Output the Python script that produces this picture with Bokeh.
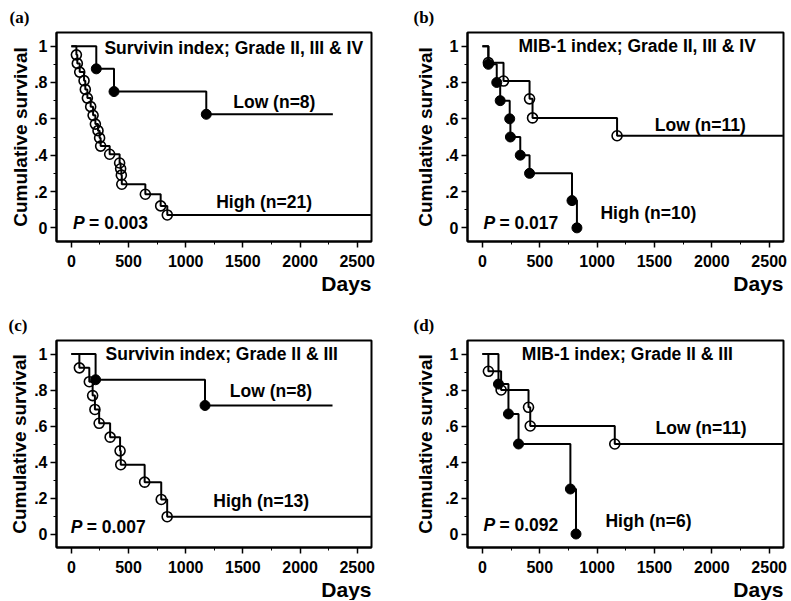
from bokeh.plotting import figure
from bokeh.layouts import gridplot
from bokeh.models import Range1d, FixedTicker, Label, Title
from bokeh.embed import file_html
from bokeh.resources import INLINE

# ---------------- data (days, cumulative survival) ----------------
# (a) Survivin index; Grade II, III & IV
a_low_days = [218, 373, 1180]
a_low_surv = [0.875, 0.75, 0.625]
a_low_end = 2287
a_high_days = [44, 52, 73, 111, 122, 140, 169, 190, 210, 233, 247, 256,
               335, 422, 431, 437, 441, 647, 781, 839]
a_high_surv = [0.952, 0.905, 0.857, 0.810, 0.762, 0.714, 0.667, 0.619,
               0.571, 0.535, 0.495, 0.45, 0.405, 0.357, 0.325, 0.29,
               0.24, 0.185, 0.121, 0.071]
a_high_end = 2620

# (b) MIB-1 index; Grade II, III & IV
b_low_days = [52, 184, 411, 437, 1174]
b_low_surv = [0.909, 0.808, 0.71, 0.605, 0.507]
b_low_end = 2620
b_high_days = [52, 125, 155, 238, 244, 330, 411, 781, 824]
b_high_surv = [0.9, 0.8, 0.7, 0.6, 0.5, 0.4, 0.3, 0.15, 0.0]
b_high_end = 824

# (c) Survivin index; Grade II & III
c_low_days = [212, 1169]
c_low_surv = [0.857, 0.714]
c_low_end = 2284
c_high_days = [70, 157, 186, 206, 243, 339, 426, 432, 641, 786, 838]
c_high_surv = [0.923, 0.846, 0.769, 0.692, 0.615, 0.538, 0.462, 0.385,
               0.288, 0.192, 0.096]
c_high_end = 2620

# (d) MIB-1 index; Grade II & III
d_low_days = [52, 163, 402, 417, 1154]
d_low_surv = [0.904, 0.8, 0.704, 0.6, 0.5]
d_low_end = 2620
d_high_days = [140, 227, 315, 767, 816]
d_high_surv = [0.833, 0.667, 0.5, 0.25, 0.0]
d_high_end = 816

panel_tags = ["(a)", "(b)", "(c)", "(d)"]
panel_titles = ["Survivin index; Grade II, III & IV",
                "MIB-1 index; Grade II, III & IV",
                "Survivin index; Grade II & III",
                "MIB-1 index; Grade II & III"]
low_labels = ["Low (n=8)", "Low (n=11)", "Low (n=8)", "Low (n=11)"]
high_labels = ["High (n=21)", "High (n=10)", "High (n=13)", "High (n=6)"]
p_values = ["= 0.003", "= 0.017", "= 0.007", "= 0.092"]

x_ticks = [0, 500, 1000, 1500, 2000, 2500]
x_minor = [250, 750, 1250, 1750, 2250]
y_ticks = [0, 0.2, 0.4, 0.6, 0.8, 1]
y_minor = [0.1, 0.3, 0.5, 0.7, 0.9]
y_tick_labels = ["0", ".2", ".4", ".6", ".8", "1"]

SANS = "Liberation Sans"
SERIF = "Liberation Serif"
FS = "17.5px"


def make_fig(tag, width, height, bl, br, bt, bb, ylab_standoff):
    p = figure(width=width, height=height, title=tag,
               x_range=Range1d(-130, 2625), y_range=Range1d(-0.075, 1.075),
               output_backend="svg", toolbar_location=None,
               min_border_left=bl, min_border_right=br,
               min_border_top=bt, min_border_bottom=bb)
    p.title.text_font = SERIF
    p.title.text_font_size = "17px"
    p.title.text_font_style = "bold"
    p.title.text_color = "black"
    p.title.align = "left"
    p.title.offset = -bl + 8
    p.title.standoff = 11
    p.xgrid.visible = False
    p.ygrid.visible = False
    p.outline_line_color = "black"
    p.outline_line_width = 2
    p.background_fill_color = "white"
    p.border_fill_color = "white"

    for ax in (p.xaxis[0], p.yaxis[0]):
        ax.axis_line_color = "black"
        ax.axis_line_width = 2
        ax.major_tick_in = 0
        ax.major_tick_out = 6
        ax.minor_tick_in = 0
        ax.minor_tick_out = 3
        ax.major_tick_line_color = "black"
        ax.minor_tick_line_color = "black"
        ax.major_tick_line_width = 1.5
        ax.minor_tick_line_width = 1
        ax.major_label_text_font = SANS
        ax.major_label_text_font_size = "16px"
        ax.major_label_text_font_style = "bold"
        ax.major_label_text_color = "black"

    p.xaxis.ticker = FixedTicker(ticks=x_ticks, minor_ticks=x_minor)
    p.xaxis.major_label_standoff = 7
    p.yaxis.ticker = FixedTicker(ticks=y_ticks, minor_ticks=y_minor)
    p.yaxis.major_label_overrides = {t: s for t, s in zip(y_ticks, y_tick_labels)}
    p.yaxis.major_label_standoff = 3
    p.yaxis.axis_label = "Cumulative survival"
    p.yaxis.axis_label_text_font = SANS
    p.yaxis.axis_label_text_font_size = "19px"
    p.yaxis.axis_label_text_font_style = "bold"
    p.yaxis.axis_label_text_color = "black"
    p.yaxis.axis_label_standoff = ylab_standoff

    p.add_layout(Title(text="Days", align="right", text_font=SANS,
                       text_font_size="21px", text_font_style="bold",
                       text_color="black", standoff=0), "below")
    return p


def km(p, days, surv, end, filled):
    xs = [0] + list(days) + [end]
    ys = [1] + list(surv) + [surv[-1]]
    p.step(xs, ys, mode="after", line_color="black", line_width=2)
    if filled:
        p.scatter(days, surv, size=10, marker="circle", fill_color="black",
                  line_color="black")
    else:
        p.scatter(days, surv, size=10, marker="circle", fill_alpha=0,
                  line_color="black", line_width=1.6)


def txt(p, x, y, text, style="bold", xoff=0):
    p.add_layout(Label(x=x, y=y, text=text, x_offset=xoff, text_font=SANS,
                       text_font_size=FS, text_font_style=style,
                       text_baseline="middle", text_align="left",
                       text_color="black"))


def decorate(p, i, title_pos, low_pos, high_pos, p_pos):
    txt(p, title_pos[0], title_pos[1], panel_titles[i])
    txt(p, low_pos[0], low_pos[1], low_labels[i])
    txt(p, high_pos[0], high_pos[1], high_labels[i])
    txt(p, p_pos[0], p_pos[1], "P", style="bold italic")
    txt(p, p_pos[0], p_pos[1], p_values[i], xoff=16)


# row 1: heights 308 ; row 2: 292  (Bokeh's page template has no body margin)
pa = make_fig(panel_tags[0], 405, 308, 55, 34, 32, 67, 0)
km(pa, a_low_days, a_low_surv, a_low_end, True)
km(pa, a_high_days, a_high_surv, a_high_end, False)
decorate(pa, 0, (289, 0.992), (1416, 0.694), (1267, 0.14), (15, 0.025))

pb = make_fig(panel_tags[1], 386, 308, 62, 8, 32, 67, 6)
km(pb, b_low_days, b_low_surv, b_low_end, False)
km(pb, b_high_days, b_high_surv, b_high_end, True)
decorate(pb, 1, (315, 1.0), (1503, 0.565), (1029, 0.08), (9, 0.028))

pc = make_fig(panel_tags[2], 405, 292, 56, 33, 31, 52, 1)
km(pc, c_low_days, c_low_surv, c_low_end, True)
km(pc, c_high_days, c_high_surv, c_high_end, False)
decorate(pc, 2, (299, 1.0), (1386, 0.797), (1241, 0.183), (-5, 0.04))

pd_ = make_fig(panel_tags[3], 386, 292, 62, 8, 31, 52, 6)
km(pd_, d_low_days, d_low_surv, d_low_end, False)
km(pd_, d_high_days, d_high_surv, d_high_end, True)
decorate(pd_, 3, (344, 1.0), (1510, 0.589), (1073, 0.07), (9, 0.05))

grid = gridplot([[pa, pb], [pc, pd_]], toolbar_location=None)

open("out.html", "w").write(file_html(grid, INLINE))
